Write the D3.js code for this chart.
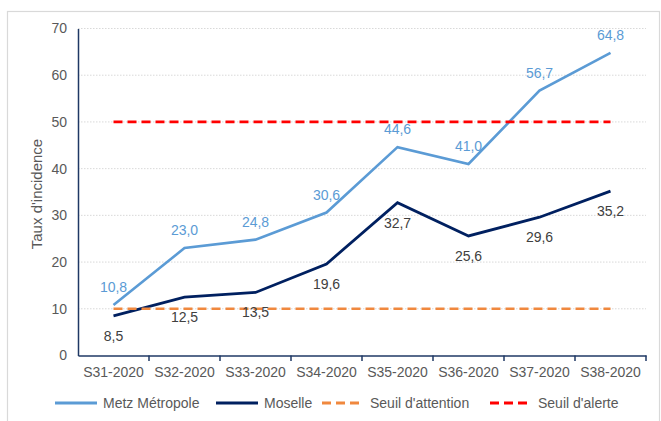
<!DOCTYPE html>
<html>
<head>
<meta charset="utf-8">
<script src="https://cdn.jsdelivr.net/npm/d3@7"></script>
<style>
  body { margin: 0; background: #fff; }
  text { font-family: "Liberation Sans", Arial, sans-serif; }
</style>
</head>
<body>
<div id="chart"></div>
<script>
// donnees
var semaines = ["S31-2020", "S32-2020", "S33-2020", "S34-2020", "S35-2020", "S36-2020", "S37-2020", "S38-2020"];
var metz = [10.8, 23.0, 24.8, 30.6, 44.6, 41.0, 56.7, 64.8];
var moselle = [8.5, 12.5, 13.5, 19.6, 32.7, 25.6, 29.6, 35.2];
var seuilAttention = [10, 10, 10, 10, 10, 10, 10, 10];
var seuilAlerte = [50, 50, 50, 50, 50, 50, 50, 50];
var yTicks = [0, 10, 20, 30, 40, 50, 60, 70];

var W = 661, H = 421;
var svg = d3.select("#chart").append("svg").attr("width", W).attr("height", H);

// cadre
svg.append("rect")
    .attr("x", 7.5).attr("y", 11.5)
    .attr("width", 652).attr("height", 420)
    .attr("fill", "none")
    .attr("stroke", "#d9d9d9")
    .attr("stroke-width", 1.2);

var x = d3.scaleBand().domain(semaines).range([78, 646]);
var y = d3.scaleLinear().domain([0, 70]).range([355.5, 28.5]);
var cx = function (i) { return x(semaines[i]) + x.bandwidth() / 2; };

// grille
svg.append("g").selectAll("line")
    .data(yTicks.slice(1))
    .enter().append("line")
    .attr("x1", 78).attr("x2", 646)
    .attr("y1", function (d) { return y(d); })
    .attr("y2", function (d) { return y(d); })
    .attr("stroke", "#d9d9d9")
    .attr("stroke-width", 1)
    .attr("stroke-dasharray", "1.5,1.5");

// axe y
var yAxis = svg.append("g")
    .attr("transform", "translate(78,0)")
    .call(d3.axisLeft(y).tickValues(yTicks).tickSize(0).tickPadding(11));
yAxis.select(".domain").attr("stroke", "#1f3864").attr("stroke-width", 1.5);
yAxis.selectAll("text").attr("fill", "#595959").style("font-size", "14px");

// axe x
var xAxis = svg.append("g")
    .attr("transform", "translate(0,355.5)")
    .call(d3.axisBottom(x).tickSize(0).tickPadding(12));
xAxis.select(".domain").attr("stroke", "#1f3864").attr("stroke-width", 1.5);
xAxis.selectAll("text").attr("fill", "#595959").style("font-size", "14px");
svg.append("g").selectAll("line")
    .data(semaines.slice(1).concat(["fin"]))
    .enter().append("line")
    .attr("x1", function (d) { return d === "fin" ? 646 : x(d); })
    .attr("x2", function (d) { return d === "fin" ? 646 : x(d); })
    .attr("y1", 355.5).attr("y2", 361)
    .attr("stroke", "#1f3864").attr("stroke-width", 1.5);

// titre axe y
svg.append("text")
    .attr("transform", "translate(42,194) rotate(-90)")
    .attr("text-anchor", "middle")
    .attr("fill", "#595959")
    .style("font-size", "15px")
    .text("Taux d'incidence");

var line = d3.line()
    .x(function (d, i) { return cx(i); })
    .y(function (d) { return y(d); });

svg.append("path").datum(metz)
    .attr("d", line).attr("fill", "none")
    .attr("stroke", "#5b9bd5").attr("stroke-width", 2.6);
svg.append("path").datum(moselle)
    .attr("d", line).attr("fill", "none")
    .attr("stroke", "#002060").attr("stroke-width", 2.8);
svg.append("path").datum(seuilAttention)
    .attr("d", line).attr("fill", "none")
    .attr("stroke", "#f0883e").attr("stroke-width", 2.6)
    .attr("stroke-dasharray", "9,5");
svg.append("path").datum(seuilAlerte)
    .attr("d", line).attr("fill", "none")
    .attr("stroke", "#ff0000").attr("stroke-width", 2.8)
    .attr("stroke-dasharray", "9,5");

var fmt = function (v) { return v.toFixed(1).replace(".", ","); };

svg.append("g").selectAll("text")
    .data(metz).enter().append("text")
    .attr("x", function (d, i) { return cx(i); })
    .attr("y", function (d) { return y(d) - 13; })
    .attr("text-anchor", "middle")
    .attr("fill", "#5b9bd5")
    .style("font-size", "14px")
    .text(fmt);

svg.append("g").selectAll("text")
    .data(moselle).enter().append("text")
    .attr("x", function (d, i) { return cx(i); })
    .attr("y", function (d) { return y(d) + 25; })
    .attr("text-anchor", "middle")
    .attr("fill", "#404040")
    .style("font-size", "14px")
    .text(fmt);

// legende
var legende = [
    {nom: "Metz Métropole", couleur: "#5b9bd5", dash: null, x: 55},
    {nom: "Moselle", couleur: "#002060", dash: null, x: 216},
    {nom: "Seuil d'attention", couleur: "#f0883e", dash: "9,5", x: 322},
    {nom: "Seuil d'alerte", couleur: "#ff0000", dash: "9,5", x: 490}
];
var lg = svg.append("g").selectAll("g").data(legende).enter().append("g")
    .attr("transform", function (d) { return "translate(" + d.x + ",403)"; });
lg.append("line")
    .attr("x1", 0).attr("x2", 42).attr("y1", 0).attr("y2", 0)
    .attr("stroke", function (d) { return d.couleur; })
    .attr("stroke-width", 2.8)
    .attr("stroke-dasharray", function (d) { return d.dash; });
lg.append("text")
    .attr("x", 48).attr("y", 5)
    .attr("fill", "#595959")
    .style("font-size", "14px")
    .text(function (d) { return d.nom; });
</script>
</body>
</html>
